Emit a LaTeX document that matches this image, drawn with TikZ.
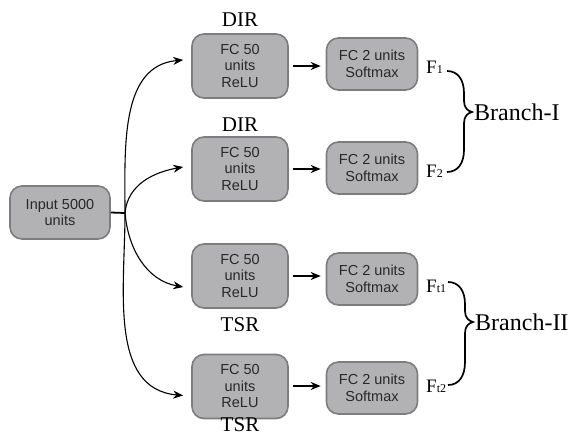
\documentclass[tikz,border=0pt]{standalone}
\usepackage{fontspec}
\setmainfont{Liberation Serif}
\setsansfont{Liberation Sans}
\usetikzlibrary{arrows.meta}
\definecolor{boxfill}{RGB}{178,178,180}
\definecolor{boxdraw}{RGB}{125,125,125}
\definecolor{boxtext}{RGB}{40,40,40}
\begin{document}
\begin{tikzpicture}[x=1pt,y=1pt,
  box/.style={draw=boxdraw,fill=boxfill,line width=1.6pt,rounded corners=12pt,
    align=center,text=boxtext,inner sep=0pt,
    font=\sffamily\fontsize{14.5}{16.5}\selectfont},
  fcbig/.style={box,minimum width=96pt,minimum height=64pt},
  fcsmall/.style={box,minimum width=91pt,minimum height=52pt},
  lab/.style={font=\fontsize{21}{21}\selectfont,inner sep=0pt},
  flab/.style={font=\fontsize{19}{19}\selectfont,inner sep=0pt,anchor=base west},
  blab/.style={font=\fontsize{24}{24}\selectfont,inner sep=0pt,anchor=west},
  arr/.style={line width=1.8pt,-{Stealth[length=10pt,width=8pt]}},
  carr/.style={line width=1.1pt,-{Stealth[length=10pt,width=8pt]}},
  brc/.style={line width=1.7pt}]
\useasboundingbox (0,0) rectangle (582,-436);
\node[box,minimum width=100pt,minimum height=53pt] (in) at (60,-212.5) {Input 5000\\units};
\node[fcbig] (f1) at (240,-66) {FC 50\\units\\ReLU};
\node[fcbig] (f2) at (240,-169) {FC 50\\units\\ReLU};
\node[fcbig] (f3) at (240,-276) {FC 50\\units\\ReLU};
\node[fcbig] (f4) at (240,-386.5) {FC 50\\units\\ReLU};
\node[fcsmall] (s1) at (372,-64) {FC 2 units\\Softmax};
\node[fcsmall] (s2) at (372,-168) {FC 2 units\\Softmax};
\node[fcsmall] (s3) at (372,-279) {FC 2 units\\Softmax};
\node[fcsmall] (s4) at (372,-388) {FC 2 units\\Softmax};
\node[lab] (d1) at (240,-19.5) {DIR};
\node[lab] (d2) at (240,-125) {DIR};
\node[lab] (t3) at (240,-324.5) {TSR};
\node[lab] (t4) at (240,-424.5) {TSR};
\node[flab] (F1) at (426,-74) {F{\fontsize{12}{12}\selectfont 1}};
\node[flab] (F2) at (426,-178) {F{\fontsize{12}{12}\selectfont 2}};
\node[flab] (F3) at (426,-292) {F{\fontsize{12}{12}\selectfont t1}};
\node[flab] (F4) at (426,-392) {F{\fontsize{12}{12}\selectfont t2}};
\node[blab] (b1) at (474,-112) {Branch-I};
\node[blab] (b2) at (475,-322) {Branch-II};
\coordinate (j) at (125,-213);
\draw[line width=1.8pt] (in.east) -- (j);
\draw[carr] (j) to[out=90,in=185] ([yshift=6pt,xshift=-8pt]f1.west);
\draw[carr] (j) to[out=85,in=190] ([yshift=2pt,xshift=-8pt]f2.west);
\draw[carr] (j) to[out=-85,in=170] ([yshift=-11pt,xshift=-8pt]f3.west);
\draw[carr] (j) to[out=-90,in=175] ([yshift=-9pt,xshift=-8pt]f4.west);
\draw[arr,shorten <=4pt,shorten >=5pt] (f1.east) -- (f1.east -| s1.west);
\draw[arr,shorten <=4pt,shorten >=5pt] (f2.east) -- (f2.east -| s2.west);
\draw[arr,shorten <=4pt,shorten >=5pt] (f3.east) -- (f3.east -| s3.west);
\draw[arr,shorten <=4pt,shorten >=5pt] ([yshift=0.5pt]f4.east) -- ([yshift=0.5pt]f4.east -| s4.west);
\draw[brc] (447,-71) .. controls (458,-71) and (464,-80) .. (464,-93) -- (464,-101)
  .. controls (464,-108) and (468,-111) .. (472,-112)
  .. controls (468,-113) and (464,-116) .. (464,-123) -- (464,-150)
  .. controls (464,-163) and (458,-172) .. (447,-172);
\draw[brc] (448,-282) .. controls (459,-282) and (465,-291) .. (465,-304) -- (465,-311)
  .. controls (465,-318) and (469,-321) .. (473,-322)
  .. controls (469,-323) and (465,-326) .. (465,-333) -- (465,-362)
  .. controls (465,-376) and (459,-385) .. (448,-385);
\end{tikzpicture}
\end{document}
